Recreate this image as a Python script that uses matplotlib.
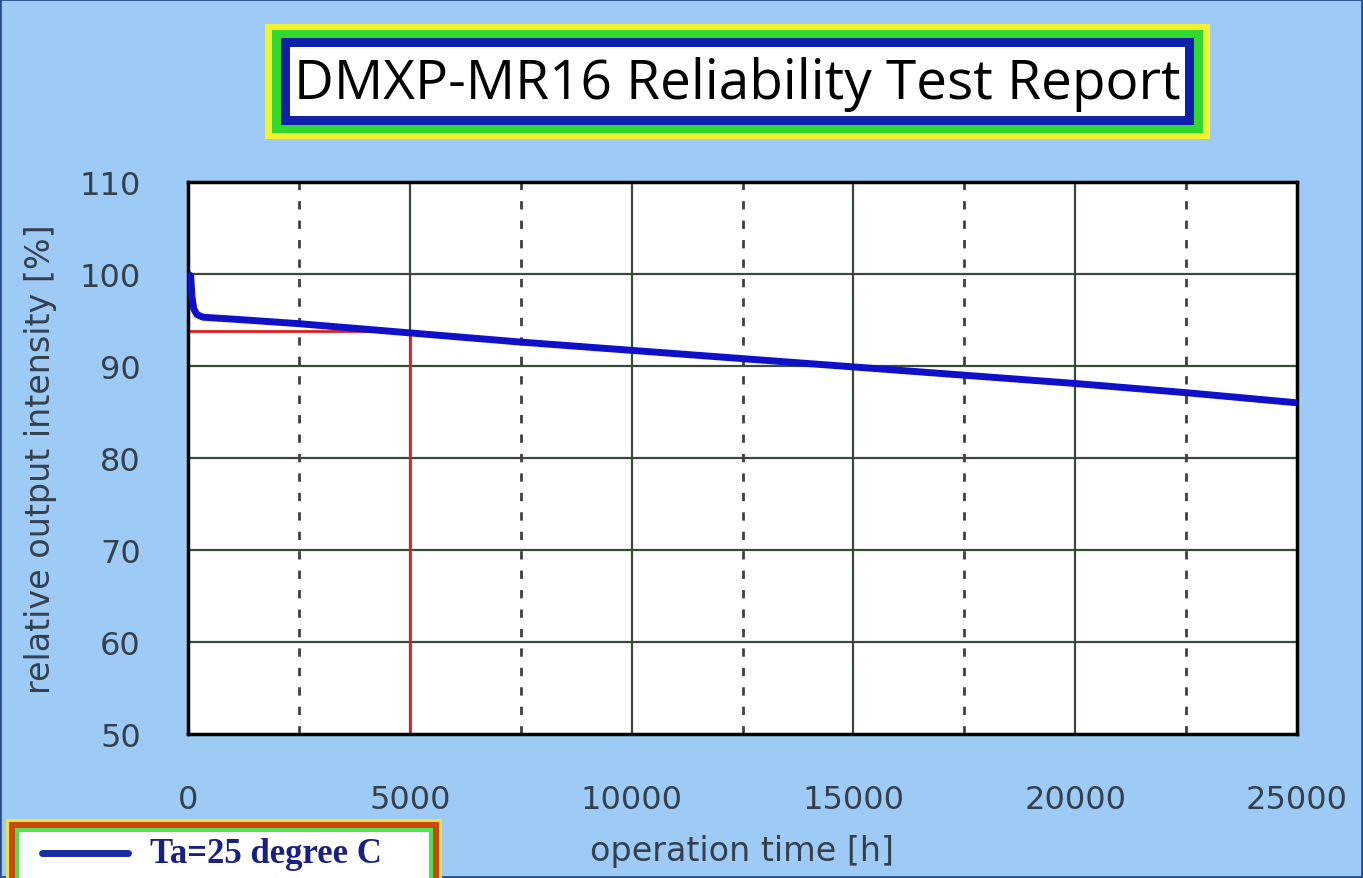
import matplotlib
matplotlib.use("Agg")
import matplotlib.pyplot as plt
from matplotlib.patches import Rectangle
from matplotlib.lines import Line2D

# data
time_h = [0, 60, 90, 130, 200, 340, 1000, 2500, 3500, 5000, 7500, 10000,
          12500, 15000, 17500, 20000, 22500, 25000]
intensity = [100.0, 99.8, 97.5, 96.2, 95.6, 95.3, 95.1, 94.6, 94.2, 93.6,
             92.6, 91.7, 90.8, 89.9, 89.0, 88.1, 87.1, 86.0]
marker_time = 5000
marker_level = 93.8
series_label = "Ta=25 degree C"
title = "DMXP-MR16 Reliability Test Report"

W, H = 1363, 879
bg = "#9ecbf5"
txt_col = "#34404e"

fig = plt.figure(figsize=(W / 100, H / 100), dpi=100, facecolor=bg)

def fx(px):
    return px / W

def fy(py):
    return 1 - py / H

def box(x0, y0, x1, y1, **kw):
    r = Rectangle((fx(x0), fy(y1)), fx(x1) - fx(x0), fy(y0) - fy(y1),
                  transform=fig.transFigure, **kw)
    fig.add_artist(r)

# figure outline
box(0, 0, W - 1, H - 1, facecolor="none", edgecolor="#2a4f8a", lw=2)

# title box
box(265, 25, 1210, 140, facecolor="#f2f230", edgecolor="none")
box(272, 31, 1203, 134, facecolor="#30d830", edgecolor="none")
box(281, 39, 1194, 126, facecolor="#1020a8", edgecolor="none")
box(290, 48, 1185, 117, facecolor="white", edgecolor="none")
fig.text(fx(737), fy(84), title, ha="center", va="center",
         fontsize=39.5, family="Open Sans", color="black")

# main axes
ax = fig.add_axes([fx(188), fy(735), fx(1297) - fx(188), fy(183) - fy(735)])
ax.set_facecolor("white")
ax.set_xlim(0, 25000)
ax.set_ylim(50, 110)

# grid
for y in range(60, 110, 10):
    ax.axhline(y, color="#3a4a3a", lw=1.6, zorder=1)
for x in range(5000, 25000, 5000):
    ax.axvline(x, color="#3a4a3a", lw=1.6, zorder=1)
for x in range(2500, 25000, 5000):
    ax.axvline(x, color="#404040", lw=2, ls=(0, (3, 4)), zorder=1)

# red marker lines
ax.plot([0, marker_time], [marker_level, marker_level], color="#e02020", lw=2, zorder=2)
ax.plot([marker_time, marker_time], [50, marker_level], color="#e02020", lw=2, zorder=2)

ax.plot(time_h, intensity, color="#1010c8", lw=5, zorder=3,
        solid_capstyle="butt", label=series_label)

for s in ax.spines.values():
    s.set_linewidth(2.5)
    s.set_color("black")

ax.set_xticks(range(0, 25001, 5000))
ax.set_yticks(range(50, 111, 10))
ax.tick_params(length=0, labelsize=23, colors=txt_col)
ax.tick_params(axis="x", pad=36)
ax.tick_params(axis="y", pad=34)

ax.set_xlabel("operation time [h]", fontsize=24, color=txt_col, labelpad=14)
ax.set_ylabel("relative output intensity [%]", fontsize=24, color=txt_col, labelpad=16)

# legend box
box(6, 820, 442, 890, facecolor="#f0e040", edgecolor="none")
box(9, 823, 439, 890, facecolor="#c84a10", edgecolor="none")
box(15, 829, 433, 884, facecolor="#50e050", edgecolor="none")
box(19, 833, 429, 880, facecolor="white", edgecolor="none")
fig.add_artist(Line2D([fx(42), fx(128)], [fy(854), fy(854)], transform=fig.transFigure,
                      color="#1a2aa0", lw=5, solid_capstyle="round"))
fig.text(fx(150), fy(855), series_label, ha="left", va="center", fontsize=25,
         family="Liberation Serif", fontweight="bold", color="#1a2080")

fig.savefig("out.png", dpi=100, facecolor=bg)
